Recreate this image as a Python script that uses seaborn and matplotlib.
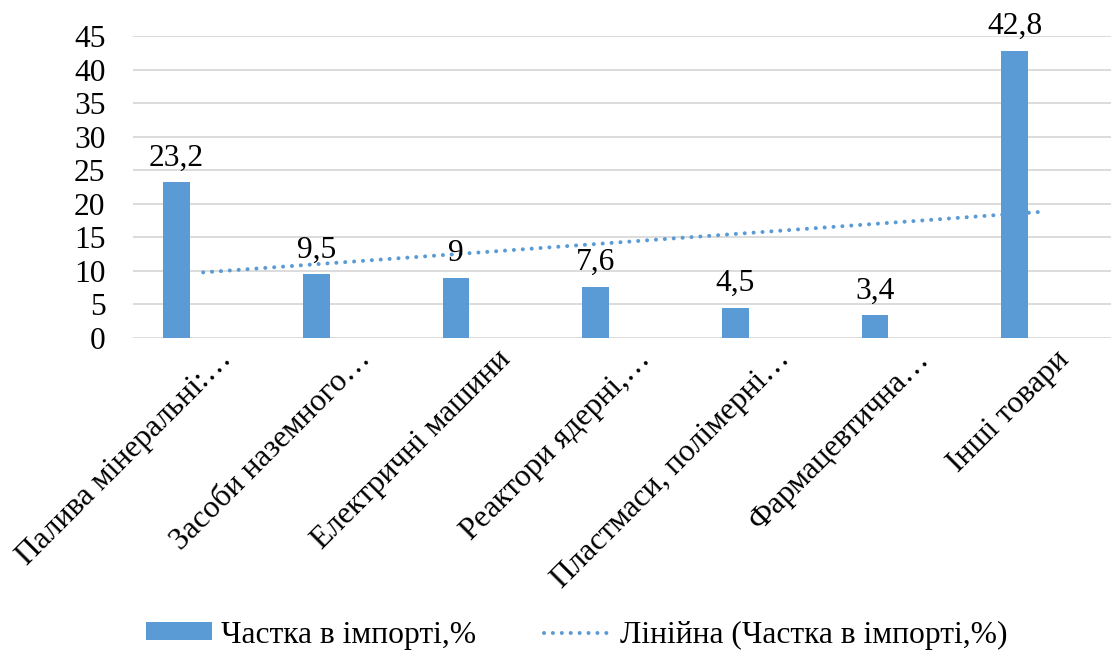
import numpy as np
import pandas as pd
import matplotlib
matplotlib.use("Agg")
import matplotlib.pyplot as plt
import seaborn as sns
from matplotlib.patches import Patch
from matplotlib.lines import Line2D

# ------------------------------------------------------------
# ДАНІ
# ------------------------------------------------------------
categories = [
    "Палива мінеральні:…",
    "Засоби наземного…",
    "Електричні машини",
    "Реактори ядерні,…",
    "Пластмаси, полімерні…",
    "Фармацевтична…",
    "Інші товари",
]
shares = [23.2, 9.5, 9.0, 7.6, 4.5, 3.4, 42.8]
y_ticks = [0, 5, 10, 15, 20, 25, 30, 35, 40, 45]

series_name = "Частка в імпорті,%"
trend_name = "Лінійна (Частка в імпорті,%)"

bar_color = "#5B9BD5"
grid_color = "#D9D9D9"

df = pd.DataFrame({"pos": np.arange(len(categories)), "share": shares})
# Excel ставить стовпчик зліва від центру категорії
bar_w = 0.19
df["bar_pos"] = df["pos"] - bar_w

# ------------------------------------------------------------
# ГРАФІК
# ------------------------------------------------------------
sns.set_theme(style="white")
plt.rcParams["font.family"] = ["Liberation Serif", "DejaVu Serif"]
plt.rcParams.update({"text.color": "black", "xtick.color": "black",
                     "ytick.color": "black", "axes.labelcolor": "black"})
FS = 22.7
DOTS = (0, (0.01, 2.2))
LW = 2.9

fig = plt.figure(figsize=(11.11, 6.52), dpi=100)
ax = fig.add_axes([0.12, 0.4816, 0.88, 0.4632])

sns.barplot(data=df, x="bar_pos", y="share", native_scale=True,
            color=bar_color, saturation=1, width=bar_w, ax=ax,
            edgecolor="none", errorbar=None)

sns.regplot(data=df, x="pos", y="share", scatter=False, ci=None, ax=ax,
            truncate=True, color=bar_color,
            line_kws={"linestyle": DOTS, "linewidth": LW,
                      "dash_capstyle": "round"})

# підписи значень
for bp, v in zip(df["bar_pos"], df["share"]):
    ax.annotate(f"{v:g}".replace(".", ","), (bp, v), xytext=(0, 7),
                textcoords="offset points", ha="center", va="bottom",
                fontsize=FS, color="black")

ax.set_xlim(-0.5, len(categories) - 0.5)
ax.set_ylim(0, 45)
ax.set_yticks(y_ticks)
ax.set_yticklabels([str(t) for t in y_ticks], fontsize=FS)
# підписи категорій трохи правіше центру, як в Excel
ax.set_xticks(df["pos"] + 0.1)
ax.set_xticklabels(categories, fontsize=FS, rotation=45,
                   ha="right", va="top", rotation_mode="anchor")
ax.tick_params(axis="y", length=0, pad=20)
ax.tick_params(axis="x", length=0, pad=5)
ax.set_xlabel("")
ax.set_ylabel("")
ax.yaxis.grid(True, color=grid_color, linewidth=1.3)
ax.set_axisbelow(True)
for s in ax.spines.values():
    s.set_visible(False)

handles = [
    Patch(facecolor=bar_color, edgecolor="none"),
    Line2D([0], [0], color=bar_color, linestyle=DOTS, linewidth=LW,
           dash_capstyle="round"),
]
fig.legend(handles, [series_name, trend_name], loc="center",
           bbox_to_anchor=(0.519, 0.026), ncol=2, frameon=False,
           fontsize=FS, handlelength=2.1, handleheight=0.5,
           columnspacing=2.15, handletextpad=0.3)

fig.savefig("out.png", dpi=100)
